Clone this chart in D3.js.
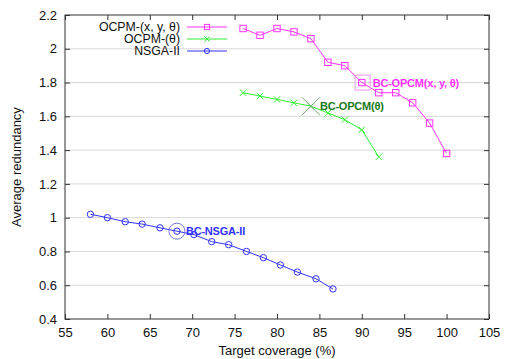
<!DOCTYPE html>
<html><head><meta charset="utf-8">
<script src="https://cdn.jsdelivr.net/npm/d3@7"></script>
<style>body{margin:0;background:#fff}svg text{font-family:"Liberation Sans",Arial,sans-serif}</style>
</head><body><svg id="c" width="505" height="359"></svg>
<script>
const xTicks = [55,60,65,70,75,80,85,90,95,100,105];
const yTicks = [0.4,0.6,0.8,1,1.2,1.4,1.6,1.8,2,2.2];
const ocpmXYT_x = [76,78,80,82,84,86,88,90,92,94,96,98,100];
const ocpmXYT_y = [2.12,2.08,2.12,2.10,2.06,1.92,1.90,1.80,1.74,1.74,1.68,1.56,1.38];
const ocpmT_x = [76,78,80,82,84,86,88,90,92];
const ocpmT_y = [1.74,1.72,1.70,1.68,1.66,1.62,1.58,1.52,1.36];
const nsga_x = [58,60,62.1,64.1,66.2,68.2,70.2,72.3,74.3,76.4,78.4,80.4,82.4,84.6,86.6];
const nsga_y = [1.02,1.00,0.976,0.962,0.94,0.92,0.90,0.858,0.84,0.80,0.763,0.72,0.678,0.638,0.578];
const seriesNames = ["OCPM-(x, y, \u03b8)","OCPM-(\u03b8)","NSGA-II"];
const bcLabels = ["BC-OPCM(x, y, \u03b8)","BC-OPCM(\u03b8)","BC-NSGA-II"];
const bcPoints = [[90.1,1.80],[84,1.66],[68.2,0.92]];

const svg = d3.select("#c");
const L=65,R=489,T=15,B=319;
const x = d3.scaleLinear().domain([55,105]).range([L,R]);
const y = d3.scaleLinear().domain([0.4,2.2]).range([B,T]);

// grid
svg.append("g").selectAll("line").data(yTicks.slice(1,-1)).join("line")
  .attr("x1",L).attr("x2",R).attr("y1",d=>y(d)).attr("y2",d=>y(d))
  .attr("stroke","#d8d8d8").attr("stroke-width",1);

const fmt = d=> d3.format("")(Math.round(d*10)/10);
const ax = svg.append("g").attr("transform",`translate(0,${B})`)
  .call(d3.axisBottom(x).tickValues(xTicks).tickSize(-5).tickPadding(9).tickFormat(d3.format("d")));
const axT = svg.append("g").attr("transform",`translate(0,${T})`)
  .call(d3.axisTop(x).tickValues(xTicks).tickSize(-5).tickFormat(""));
const ay = svg.append("g").attr("transform",`translate(${L},0)`)
  .call(d3.axisLeft(y).tickValues(yTicks).tickSize(-5).tickPadding(8).tickFormat(fmt));
const ayR = svg.append("g").attr("transform",`translate(${R},0)`)
  .call(d3.axisRight(y).tickValues(yTicks).tickSize(-5).tickFormat(""));
[ax,axT,ay,ayR].forEach(g=>{g.select(".domain").remove();g.selectAll("line").attr("stroke","#333");
  g.selectAll("text").attr("font-size",13).attr("fill","#111")
   .attr("font-family","'Liberation Sans',Arial,sans-serif");});
svg.append("rect").attr("x",L).attr("y",T).attr("width",R-L).attr("height",B-T)
  .attr("fill","none").attr("stroke","#333").attr("stroke-width",1);

svg.append("text").attr("x",(L+R)/2).attr("y",355).attr("text-anchor","middle")
  .attr("font-size",13).attr("fill","#111").text("Target coverage (%)");
svg.append("text").attr("transform",`translate(21,${(T+B)/2}) rotate(-90)`).attr("text-anchor","middle")
  .attr("font-size",13).attr("fill","#111").text("Average redundancy");

const colors = ["#ff33ff","#33ee33","#3333ff"];
const data = [d3.zip(ocpmXYT_x,ocpmXYT_y), d3.zip(ocpmT_x,ocpmT_y), d3.zip(nsga_x,nsga_y)];
const line = d3.line().x(d=>x(d[0])).y(d=>y(d[1]));

function marker(g,type,cx,cy,col,s){
  if(type===0) g.append("rect").attr("x",cx-s).attr("y",cy-s).attr("width",2*s).attr("height",2*s)
     .attr("fill","none").attr("stroke",col).attr("stroke-width",1);
  else if(type===1){ g.append("path").attr("d",`M${cx-s},${cy-s}L${cx+s},${cy+s}M${cx-s},${cy+s}L${cx+s},${cy-s}`)
     .attr("stroke",col).attr("stroke-width",1).attr("fill","none"); }
  else g.append("circle").attr("cx",cx).attr("cy",cy).attr("r",s).attr("fill","none").attr("stroke",col).attr("stroke-width",1);
}

data.forEach((d,i)=>{
  svg.append("path").attr("d",line(d)).attr("fill","none").attr("stroke",colors[i]).attr("stroke-width",1);
  const g = svg.append("g");
  d.forEach(p=>marker(g,i,x(p[0]),y(p[1]),colors[i],3.2));
});

// legend
const ly=[27,39,51];
seriesNames.forEach((n,i)=>{
  svg.append("text").attr("x",180).attr("y",ly[i]+4.3).attr("text-anchor","end")
    .attr("font-size",12.3).attr("fill","#111").text(n);
  svg.append("line").attr("x1",187).attr("x2",227).attr("y1",ly[i]).attr("y2",ly[i])
    .attr("stroke",colors[i]).attr("stroke-width",1);
  marker(svg,i,207,ly[i],colors[i],2.6);
});

// BC annotations
const bcCol=["#ff33ff","#1a7a1a","#3333ff"];
const bigCol=["#ee99ee","#77aa77","#7777dd"];
bcPoints.forEach((p,i)=>{
  const cx=x(p[0]),cy=y(p[1]);
  marker(svg,i,cx,cy,bigCol[i],i===1?9:(i===0?7.5:8));
  svg.append("text").attr("x",cx+(i===1?9:(i===0?10:9))).attr("y",cy+4).attr("font-size",11)
    .attr("letter-spacing",-0.2)
    .attr("font-weight","bold").attr("fill",bcCol[i]).text(bcLabels[i]);
});
</script></body></html>
